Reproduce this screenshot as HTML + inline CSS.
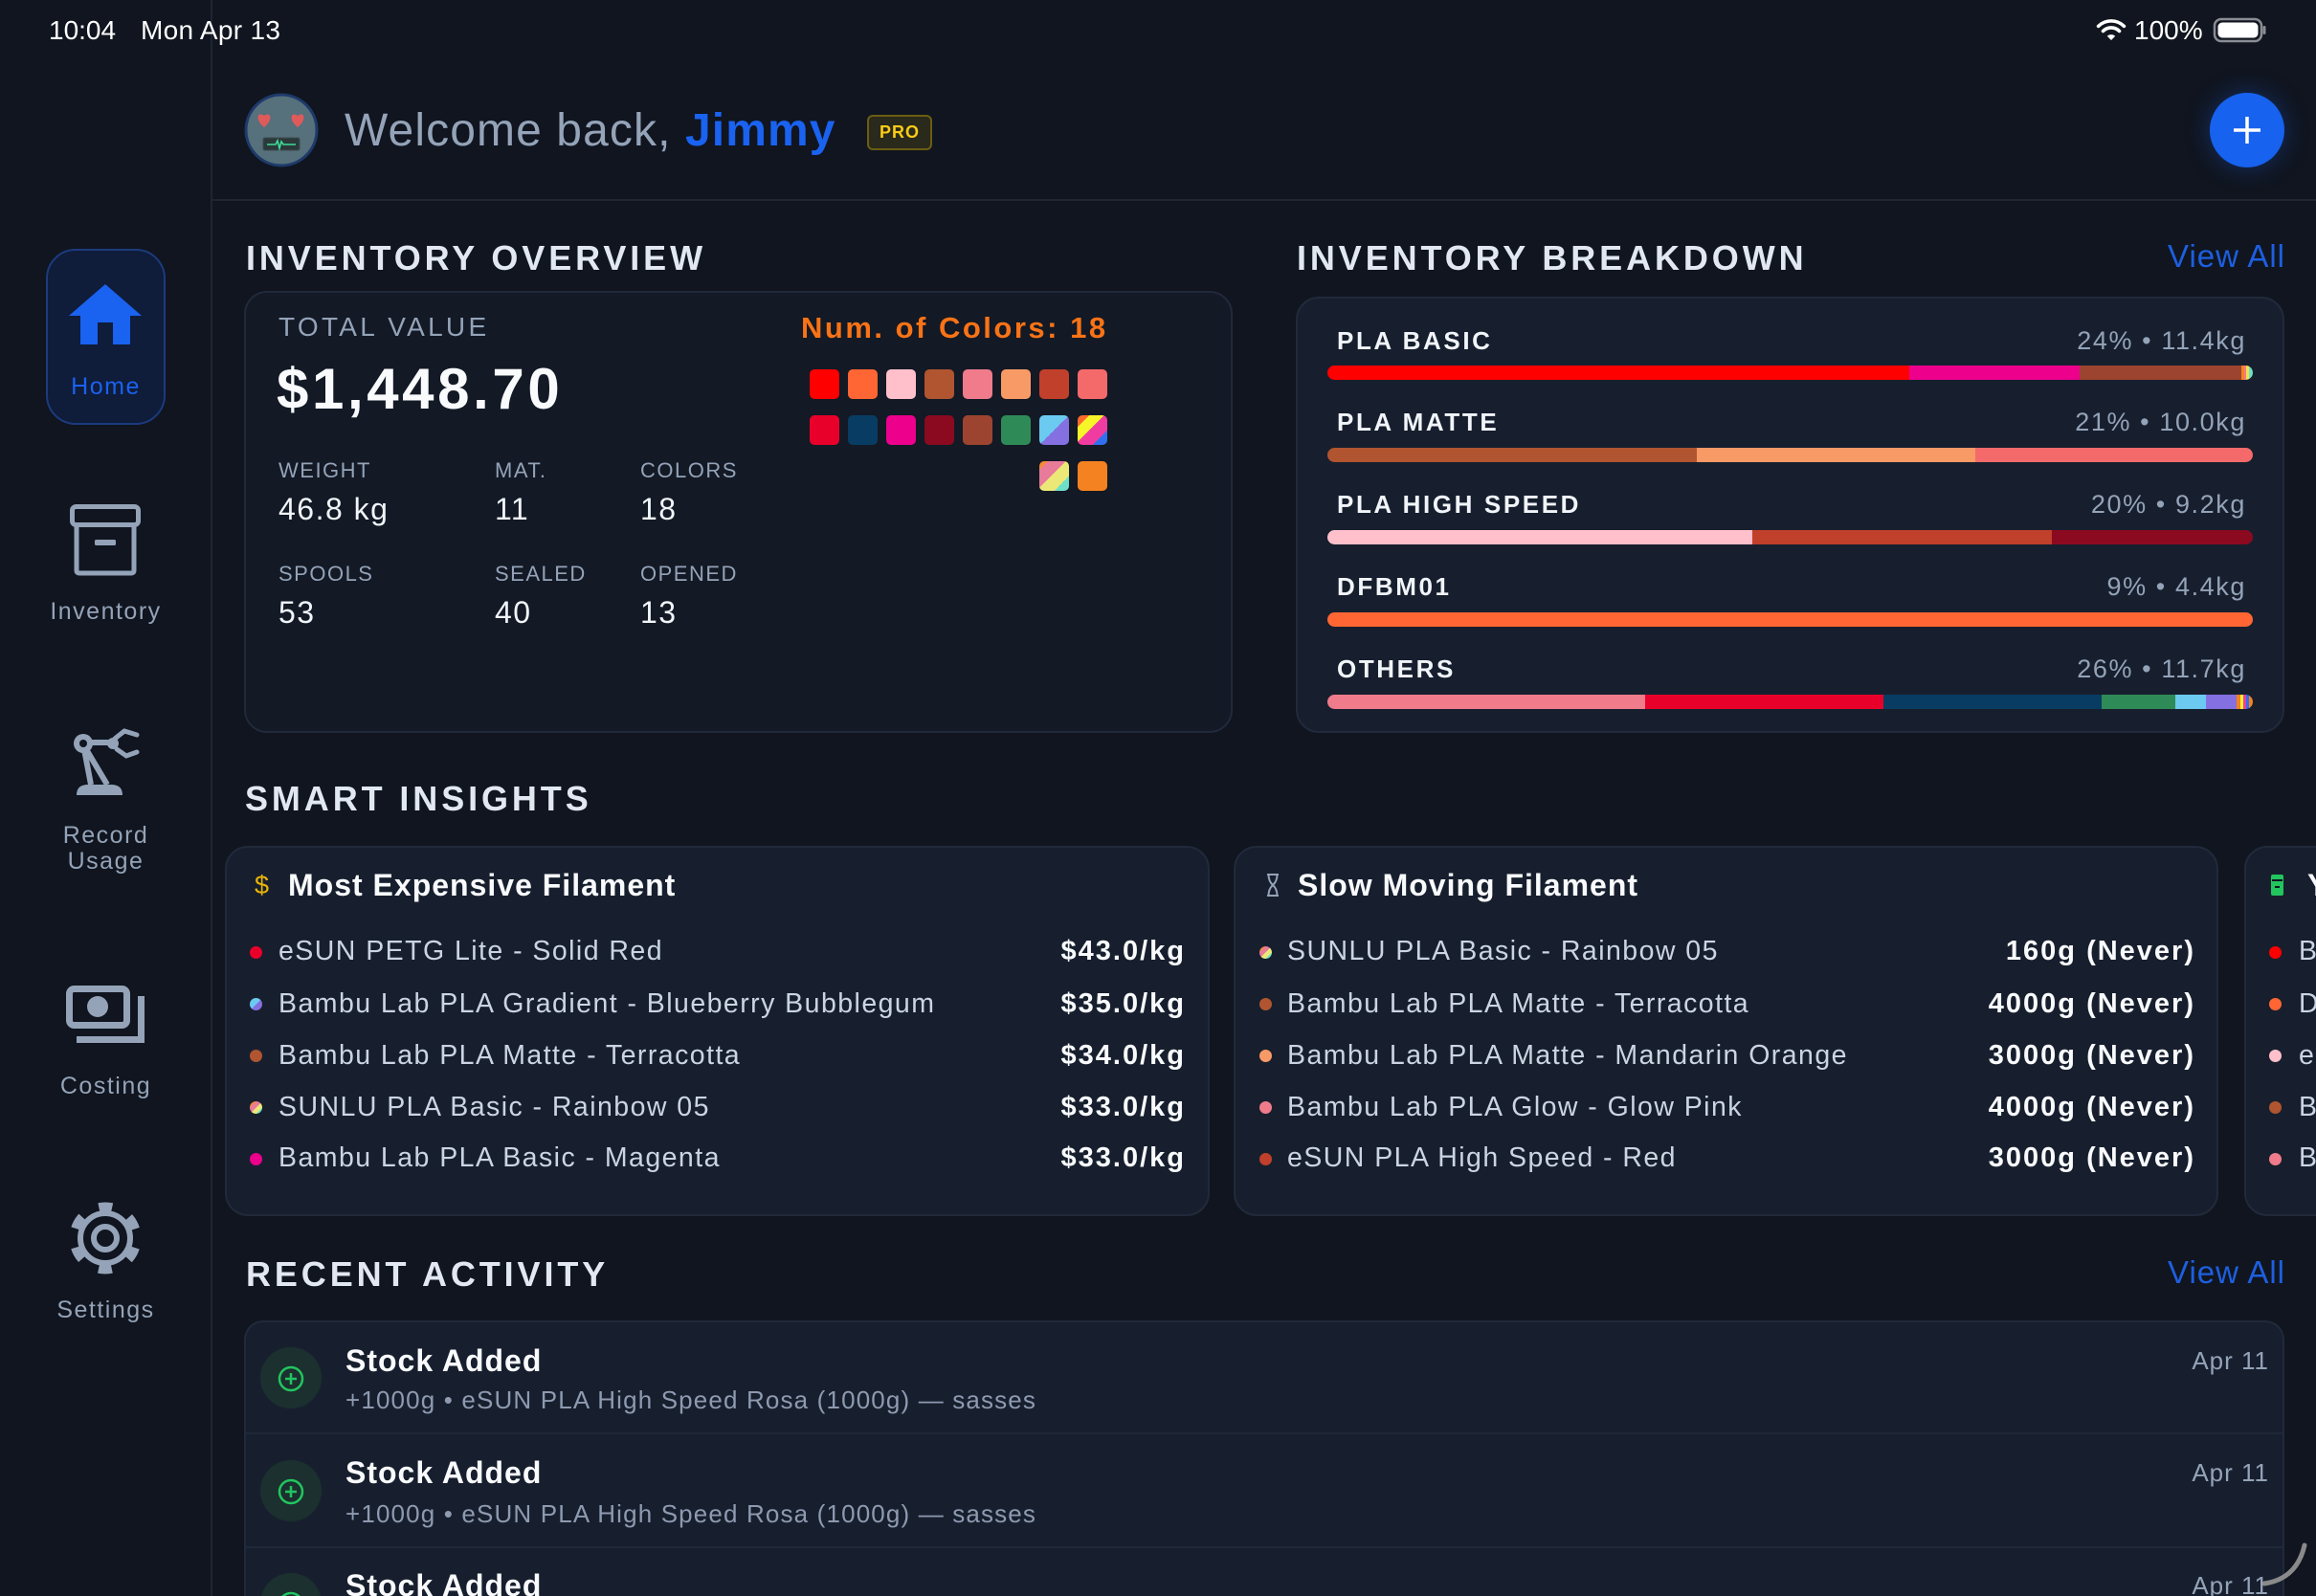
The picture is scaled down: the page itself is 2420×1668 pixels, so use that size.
<!DOCTYPE html>
<html><head><meta charset="utf-8">
<style>
*{margin:0;padding:0;box-sizing:border-box}
html,body{width:2420px;height:1668px;overflow:hidden;background:#10151f;font-family:"Liberation Sans",sans-serif}
#w{position:relative;width:2420px;height:1668px;overflow:hidden;background:#10151f}
.t{position:absolute;white-space:nowrap;line-height:40px;height:40px}
.card{position:absolute;border:2px solid #212a3a;border-radius:24px;background:#171f2e}
.h{font-size:36px;font-weight:bold;letter-spacing:3.9px;color:#e2e8f0}
.side{left:0;width:221px;text-align:center;font-size:25px;letter-spacing:1.5px;color:#94a3b8}
.lbl{font-size:22px;letter-spacing:1.5px;color:#94a3b8}
.val{font-size:32px;letter-spacing:1.5px;color:#f1f5f9}
.sw{position:absolute;width:31px;height:31px;border-radius:5px}
.bar{position:absolute;left:1387px;width:967px;height:15px;border-radius:7.5px;overflow:hidden;display:flex}
.bar div{height:15px;flex:none}
.bl{font-size:26px;font-weight:bold;letter-spacing:2.6px;color:#f1f5f9;left:1397px}
.br{font-size:27px;letter-spacing:1.6px;color:#94a3b8;right:73px}
.it{font-size:28.5px;letter-spacing:1.45px;color:#cbd5e1}
.pr{font-size:29px;font-weight:bold;letter-spacing:2px;color:#f8fafc}
.ct{font-size:32px;font-weight:bold;letter-spacing:1px;color:#f8fafc}
.dot{position:absolute;width:13px;height:13px;border-radius:50%}
.at{font-size:32px;font-weight:bold;letter-spacing:1px;color:#f8fafc;left:361px}
.as{font-size:26px;letter-spacing:1.15px;color:#8e9ab0;left:361px}
.ad{font-size:26px;letter-spacing:1px;color:#94a3b8;right:49px}
.va{font-size:33px;letter-spacing:1px;color:#1d5fe0;right:32px}
</style></head><body><div id="w">

<div style="position:absolute;left:220px;top:0;width:2px;height:1668px;background:#1e2533"></div>
<div style="position:absolute;left:222px;top:208px;width:2198px;height:2px;background:#1e2634"></div>

<div style="position:absolute;left:48px;top:260px;width:125px;height:184px;border-radius:31px;background:#0f1c3a;border:2px solid #1c3b7d"></div>

<div class="card" style="left:255px;top:304px;width:1033px;height:462px;background:#131925"></div>
<div class="card" style="left:1354px;top:310px;width:1033px;height:456px"></div>
<div class="card" style="left:235px;top:884px;width:1029px;height:387px"></div>
<div class="card" style="left:1289px;top:884px;width:1029px;height:387px"></div>
<div class="card" style="left:2345px;top:884px;width:200px;height:387px"></div>
<div class="card" style="left:255px;top:1380px;width:2132px;height:320px;border-radius:20px"></div>
<div style="position:absolute;left:257px;top:1497px;width:2128px;height:2px;background:#1f2838"></div>
<div style="position:absolute;left:257px;top:1616px;width:2128px;height:2px;background:#1f2838"></div>

<div style="position:absolute;left:2309px;top:97px;width:78px;height:78px;border-radius:50%;background:#1762ee;box-shadow:0 0 26px rgba(29,98,238,.35)"></div>

<div class="sw" style="left:846px;top:386px;background:#ff0000"></div>
<div class="sw" style="left:886px;top:386px;background:#ff6633"></div>
<div class="sw" style="left:926px;top:386px;background:#ffc0cb"></div>
<div class="sw" style="left:966px;top:386px;background:#b05530"></div>
<div class="sw" style="left:1006px;top:386px;background:#f07b8b"></div>
<div class="sw" style="left:1046px;top:386px;background:#f89a66"></div>
<div class="sw" style="left:1086px;top:386px;background:#c0402b"></div>
<div class="sw" style="left:1126px;top:386px;background:#f46a6a"></div>
<div class="sw" style="left:846px;top:434px;background:#e8002a"></div>
<div class="sw" style="left:886px;top:434px;background:#083c63"></div>
<div class="sw" style="left:926px;top:434px;background:#ec008c"></div>
<div class="sw" style="left:966px;top:434px;background:#8b0a20"></div>
<div class="sw" style="left:1006px;top:434px;background:#9c4430"></div>
<div class="sw" style="left:1046px;top:434px;background:#2e8b57"></div>
<div class="sw" style="left:1086px;top:434px;background:linear-gradient(to bottom right,#6ccaf0 50%,#8470e0 50%)"></div>
<div class="sw" style="left:1126px;top:434px;background:linear-gradient(to bottom right,#ff6a2b 0 20%,#f5f52a 20% 45%,#f03ca0 45% 75%,#3070f0 75%)"></div>
<div class="sw" style="left:1086px;top:482px;background:linear-gradient(to bottom right,#f58a3a 0 15%,#e87a9a 15% 45%,#ece878 45% 75%,#6ee0c8 75%)"></div>
<div class="sw" style="left:1126px;top:482px;background:#f58220"></div>

<div class="bar" style="top:382px"><div style="width:608px;background:#ff0000"></div><div style="width:178px;background:#ec008c"></div><div style="width:169px;background:#9c4430"></div><div style="width:3px;background:#f58220"></div><div style="width:2px;background:#f07b8b"></div><div style="width:3px;background:#f5e050"></div><div style="width:4px;background:#6ee0c8"></div></div>
<div class="bar" style="top:468px"><div style="width:386px;background:#b05530"></div><div style="width:291px;background:#f89a66"></div><div style="width:290px;background:#f46a6a"></div></div>
<div class="bar" style="top:554px"><div style="width:444px;background:#ffc0cb"></div><div style="width:313px;background:#c0402b"></div><div style="width:210px;background:#8b0a20"></div></div>
<div class="bar" style="top:640px"><div style="width:967px;background:#ff6633"></div></div>
<div class="bar" style="top:726px"><div style="width:332px;background:#f07b8b"></div><div style="width:249px;background:#e8002a"></div><div style="width:228px;background:#083c63"></div><div style="width:77px;background:#2e8b57"></div><div style="width:32px;background:#6ccaf0"></div><div style="width:32px;background:#8470e0"></div><div style="width:4px;background:#f58220"></div><div style="width:3px;background:#f5f52a"></div><div style="width:3px;background:#ec3ca0"></div><div style="width:3px;background:#3070f0"></div><div style="width:4px;background:#f58220"></div></div>

<div class="dot" style="left:261px;top:989px;background:#e8002a"></div>
<div class="dot" style="left:261px;top:1043px;background:linear-gradient(to bottom right,#6ccaf0 50%,#8470e0 50%)"></div>
<div class="dot" style="left:261px;top:1097px;background:#b05530"></div>
<div class="dot" style="left:261px;top:1151px;background:linear-gradient(to bottom right,#f58a3a 0 25%,#e87a9a 25% 50%,#ece878 50% 75%,#6ee0c8 75%)"></div>
<div class="dot" style="left:261px;top:1205px;background:#ec008c"></div>
<div class="dot" style="left:1316px;top:989px;background:linear-gradient(to bottom right,#f58a3a 0 25%,#e87a9a 25% 50%,#ece878 50% 75%,#6ee0c8 75%)"></div>
<div class="dot" style="left:1316px;top:1043px;background:#b05530"></div>
<div class="dot" style="left:1316px;top:1097px;background:#f89a66"></div>
<div class="dot" style="left:1316px;top:1151px;background:#f07b8b"></div>
<div class="dot" style="left:1316px;top:1205px;background:#c0402b"></div>
<div class="dot" style="left:2371px;top:989px;background:#ff0000"></div>
<div class="dot" style="left:2371px;top:1043px;background:#ff6633"></div>
<div class="dot" style="left:2371px;top:1097px;background:#ffc0cb"></div>
<div class="dot" style="left:2371px;top:1151px;background:#b05530"></div>
<div class="dot" style="left:2371px;top:1205px;background:#f07b8b"></div>

<svg style="position:absolute;left:0;top:0" width="2420" height="1668" viewBox="0 0 2420 1668">
  <path d="M2206 42 L2201.8 37.8 A6 6 0 0 1 2210.2 37.8 Z" fill="#fff"/>
  <path d="M2197.5 32.5 A12 12 0 0 1 2214.5 32.5" stroke="#fff" stroke-width="3.6" fill="none" stroke-linecap="round"/>
  <path d="M2192.6 27.4 A19 19 0 0 1 2219.4 27.4" stroke="#fff" stroke-width="3.6" fill="none" stroke-linecap="round"/>
  <rect x="2314" y="20" width="49" height="23" rx="7" fill="none" stroke="#8a8d93" stroke-width="2.5"/>
  <rect x="2317.5" y="23.5" width="42" height="16" rx="4.5" fill="#fff"/>
  <rect x="2364.5" y="27" width="3" height="9" rx="1.5" fill="#8a8d93"/>
  <polygon points="110,297 72,330 148,330" fill="#1a62f0"/>
  <path d="M84 329 H136 V360 H118 V337 H102 V360 H84 Z" fill="#1a62f0"/>
  <rect x="75.5" y="529.5" width="69" height="19" rx="4" fill="none" stroke="#94a3b8" stroke-width="5"/>
  <path d="M80 550 V596 Q80 599 83 599 H137 Q140 599 140 596 V550" fill="none" stroke="#94a3b8" stroke-width="5"/>
  <rect x="99" y="564" width="22" height="6" rx="1.5" fill="#94a3b8"/>
  <path d="M80 831 Q80 820 92 820 L116 820 Q128 820 128 831 Z" fill="#94a3b8"/>
  <path d="M87 778 L95 820 M87 778 L112 820" stroke="#94a3b8" stroke-width="6" fill="none"/>
  <path d="M87 776 L118 776" stroke="#94a3b8" stroke-width="6"/>
  <circle cx="87" cy="777" r="10" fill="#94a3b8"/>
  <circle cx="87" cy="777" r="4" fill="#10151f"/>
  <circle cx="118" cy="777" r="6" fill="#94a3b8"/>
  <path d="M120 772 L130 764 L143 768" stroke="#94a3b8" stroke-width="5" fill="none" stroke-linecap="round"/>
  <path d="M122 783 L132 790 L143 786" stroke="#94a3b8" stroke-width="5" fill="none" stroke-linecap="round"/>
  <rect x="72.5" y="1033.5" width="60" height="38" rx="5" fill="none" stroke="#94a3b8" stroke-width="7"/>
  <circle cx="102" cy="1052" r="11" fill="#94a3b8"/>
  <path d="M147.5 1041 V1086.5 H80" fill="none" stroke="#94a3b8" stroke-width="7"/>
  <circle cx="110" cy="1294" r="33" fill="none" stroke="#94a3b8" stroke-width="9" stroke-dasharray="14 20.56" stroke-dashoffset="-10.28"/>
  <circle cx="110" cy="1294" r="26" fill="none" stroke="#94a3b8" stroke-width="6"/>
  <circle cx="110" cy="1294" r="12" fill="none" stroke="#94a3b8" stroke-width="6"/>
  <circle cx="294" cy="136" r="37" fill="#56707c" stroke="#1e3a6a" stroke-width="3"/>
  <path d="M276 133 C266 125 269 116 276 121 C283 116 286 125 276 133 Z" fill="#e05a5a"/>
  <path d="M311 133 C301 125 304 116 311 121 C318 116 321 125 311 133 Z" fill="#e05a5a"/>
  <rect x="275" y="144" width="38" height="13" rx="2" fill="#2b393b" stroke="#3c4c4e" stroke-width="1"/>
  <polyline points="279,151 288,151 290,147 292,155 294,148 296,151 309,151" fill="none" stroke="#3ddc97" stroke-width="1.6"/>
  <path d="M2334 136 H2362 M2348 122 V150" stroke="#fff" stroke-width="3.5"/>
  <path d="M1324 914 H1336 M1324 936 H1336 M1325.5 914 Q1325.5 921 1330 925 Q1334.5 929 1334.5 936 M1334.5 914 Q1334.5 921 1330 925 Q1325.5 929 1325.5 936" fill="none" stroke="#94a3b8" stroke-width="2"/>
  <rect x="2373" y="914" width="13" height="22" rx="2" fill="#22c55e"/>
  <rect x="2374" y="919" width="11" height="2" fill="#10151f"/>
  <rect x="2377" y="926" width="5" height="2" fill="#10151f"/>
  <circle cx="304" cy="1440" r="32" fill="#1b302f"/>
  <circle cx="304" cy="1441" r="12" fill="none" stroke="#22c55e" stroke-width="2.5"/>
  <path d="M298 1441 H310 M304 1435 V1447" stroke="#22c55e" stroke-width="2.5"/>
  <circle cx="304" cy="1558" r="32" fill="#1b302f"/>
  <circle cx="304" cy="1559" r="12" fill="none" stroke="#22c55e" stroke-width="2.5"/>
  <path d="M298 1559 H310 M304 1553 V1565" stroke="#22c55e" stroke-width="2.5"/>
  <circle cx="304" cy="1676" r="32" fill="#1b302f"/>
  <circle cx="304" cy="1677" r="12" fill="none" stroke="#22c55e" stroke-width="2.5"/>
  <path d="M2408 1615 Q2400 1650 2366 1655" fill="none" stroke="#8a8a8a" stroke-width="5" stroke-linecap="round"/>
</svg>

<div class="t" style="left:51px;top:12px;font-size:28px;color:#fff">10:04</div>
<div class="t" style="left:147px;top:12px;font-size:28px;letter-spacing:0.3px;color:#fff">Mon Apr 13</div>
<div class="t" style="left:2230px;top:12px;font-size:28px;color:#fff">100%</div>

<div class="t side" style="top:384px;color:#1a62f0">Home</div>
<div class="t side" style="top:619px">Inventory</div>
<div class="t side" style="top:853px">Record</div>
<div class="t side" style="top:880px">Usage</div>
<div class="t side" style="top:1115px">Costing</div>
<div class="t side" style="top:1349px">Settings</div>

<div class="t" style="left:360px;top:117px;font-size:48px;letter-spacing:1.1px;color:#94a3b8">Welcome back, <b style="color:#1a62f0">Jimmy</b></div>
<div style="position:absolute;left:906px;top:120px;width:68px;height:37px;border:2px solid #6b5d12;background:#29291c;border-radius:6px;text-align:center;line-height:33px;font-size:18px;font-weight:bold;letter-spacing:1px;color:#facc15">PRO</div>

<div class="t h" style="left:257px;top:250px">INVENTORY OVERVIEW</div>
<div class="t h" style="left:1355px;top:250px">INVENTORY BREAKDOWN</div>
<div class="t va" style="top:248px">View All</div>
<div class="t h" style="left:256px;top:815px">SMART INSIGHTS</div>
<div class="t h" style="left:257px;top:1312px">RECENT ACTIVITY</div>
<div class="t va" style="top:1310px">View All</div>

<div class="t" style="left:291px;top:322px;font-size:28px;letter-spacing:3.3px;color:#94a3b8">TOTAL VALUE</div>
<div class="t" style="left:289px;top:387px;font-size:60px;font-weight:bold;letter-spacing:3.6px;color:#f8fafc">$1,448.70</div>
<div class="t lbl" style="left:291px;top:472px">WEIGHT</div>
<div class="t lbl" style="left:517px;top:472px">MAT.</div>
<div class="t lbl" style="left:669px;top:472px">COLORS</div>
<div class="t val" style="left:291px;top:512px">46.8 kg</div>
<div class="t val" style="left:517px;top:512px">11</div>
<div class="t val" style="left:669px;top:512px">18</div>
<div class="t lbl" style="left:291px;top:580px">SPOOLS</div>
<div class="t lbl" style="left:517px;top:580px">SEALED</div>
<div class="t lbl" style="left:669px;top:580px">OPENED</div>
<div class="t val" style="left:291px;top:620px">53</div>
<div class="t val" style="left:517px;top:620px">40</div>
<div class="t val" style="left:669px;top:620px">13</div>
<div class="t" style="left:837px;top:323px;font-size:31px;font-weight:bold;letter-spacing:2.5px;color:#f97316">Num. of Colors: 18</div>

<div class="t bl" style="top:336px">PLA BASIC</div>
<div class="t br" style="top:336px">24% • 11.4kg</div>
<div class="t bl" style="top:421px">PLA MATTE</div>
<div class="t br" style="top:421px">21% • 10.0kg</div>
<div class="t bl" style="top:507px">PLA HIGH SPEED</div>
<div class="t br" style="top:507px">20% • 9.2kg</div>
<div class="t bl" style="top:593px">DFBM01</div>
<div class="t br" style="top:593px">9% • 4.4kg</div>
<div class="t bl" style="top:679px">OTHERS</div>
<div class="t br" style="top:679px">26% • 11.7kg</div>

<div class="t" style="left:266px;top:905px;font-size:27px;color:#eab308">$</div>
<div class="t ct" style="left:301px;top:905px">Most Expensive Filament</div>
<div class="t it" style="left:291px;top:974px">eSUN PETG Lite - Solid Red</div>
<div class="t it" style="left:291px;top:1029px">Bambu Lab PLA Gradient - Blueberry Bubblegum</div>
<div class="t it" style="left:291px;top:1083px">Bambu Lab PLA Matte - Terracotta</div>
<div class="t it" style="left:291px;top:1137px">SUNLU PLA Basic - Rainbow 05</div>
<div class="t it" style="left:291px;top:1190px">Bambu Lab PLA Basic - Magenta</div>
<div class="t pr" style="right:1181px;top:974px">$43.0/kg</div>
<div class="t pr" style="right:1181px;top:1029px">$35.0/kg</div>
<div class="t pr" style="right:1181px;top:1083px">$34.0/kg</div>
<div class="t pr" style="right:1181px;top:1137px">$33.0/kg</div>
<div class="t pr" style="right:1181px;top:1190px">$33.0/kg</div>

<div class="t ct" style="left:1356px;top:905px">Slow Moving Filament</div>
<div class="t it" style="left:1345px;top:974px">SUNLU PLA Basic - Rainbow 05</div>
<div class="t it" style="left:1345px;top:1029px">Bambu Lab PLA Matte - Terracotta</div>
<div class="t it" style="left:1345px;top:1083px">Bambu Lab PLA Matte - Mandarin Orange</div>
<div class="t it" style="left:1345px;top:1137px">Bambu Lab PLA Glow - Glow Pink</div>
<div class="t it" style="left:1345px;top:1190px">eSUN PLA High Speed - Red</div>
<div class="t pr" style="right:126px;top:974px">160g (Never)</div>
<div class="t pr" style="right:126px;top:1029px">4000g (Never)</div>
<div class="t pr" style="right:126px;top:1083px">3000g (Never)</div>
<div class="t pr" style="right:126px;top:1137px">4000g (Never)</div>
<div class="t pr" style="right:126px;top:1190px">3000g (Never)</div>

<div class="t ct" style="left:2411px;top:905px">Y</div>
<div class="t it" style="left:2402px;top:974px">B</div>
<div class="t it" style="left:2402px;top:1029px">D</div>
<div class="t it" style="left:2402px;top:1083px">e</div>
<div class="t it" style="left:2402px;top:1137px">B</div>
<div class="t it" style="left:2402px;top:1190px">B</div>

<div class="t at" style="top:1402px">Stock Added</div>
<div class="t as" style="top:1443px">+1000g • eSUN PLA High Speed Rosa (1000g) — sasses</div>
<div class="t ad" style="top:1402px">Apr 11</div>
<div class="t at" style="top:1519px">Stock Added</div>
<div class="t as" style="top:1562px">+1000g • eSUN PLA High Speed Rosa (1000g) — sasses</div>
<div class="t ad" style="top:1519px">Apr 11</div>
<div class="t at" style="top:1637px">Stock Added</div>
<div class="t ad" style="top:1637px">Apr 11</div>

</div></body></html>
